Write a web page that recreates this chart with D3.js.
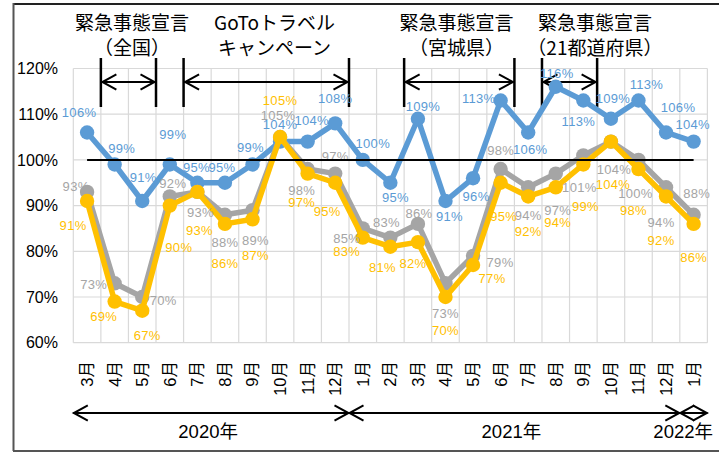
<!DOCTYPE html>
<html lang="ja">
<head>
<meta charset="utf-8">
<title>緊急事態宣言 推移</title>
<script src="https://d3js.org/d3.v7.min.js"></script>
<style>
  body { margin: 0; background: #fff; }
  svg { display: block; font-family: "Liberation Sans", "Noto Sans CJK JP", sans-serif; }
</style>
</head>
<body>
<div id="chart"></div>
<script>
// months, Mar 2020 .. Jan 2022
var months = ["3月","4月","5月","6月","7月","8月","9月","10月","11月","12月",
              "1月","2月","3月","4月","5月","6月","7月","8月","9月","10月","11月","12月","1月"];
var blueValues   = [106,99,91,99,95,95,99,104,104,108,100,95,109,91,96,113,106,116,113,109,113,106,104];
var grayValues   = [93,73,70,92,93,88,89,105,98,97,85,83,86,73,79,98,94,97,101,104,100,94,88];
var yellowValues = [91,69,67,90,93,86,87,105,97,95,83,81,82,70,77,95,92,94,99,104,98,92,86];
var yTicks = [60,70,80,90,100,110,120];
var baseline = 100;

// label placement relative to the marker (dx, dy)
var blueLabelPos = [[-8,-20],[7,-16],[1,-24],[3,-30],[-1,-15],[-3,-15],[-2,-17],[0,-17],[4,-21],[0,-25],[10,-17],[5,15],
                    [5,-12],[4,15],[3,18],[-22,-2],[2,17],[1,-13],[-5,21],[2,-20],[8,-16],[12,-25],[-1,-17]];
var grayLabelPos = [[-11,-6],[-21,1],[21,3],[3,-13],[3,20],[0,28],[3,30],[-2,-22],[-6,21],[0,-17],[-16,10],[-4,-15],
                    [1,-11],[0,30],[27,6],[0,-19],[0,28],[2,37],[-4,32],[3,28],[-3,33],[-5,35],[3,-21]];
var yellowLabelPos = [[-14,24],[-11,15],[5,25],[9,42],[2,38],[0,39],[3,36],[0,-37],[-6,29],[-8,29],[-16,14],[-8,21],
                      [-5,21],[0,33],[19,13],[3,34],[0,35],[2,35],[2,42],[2,43],[-5,41],[-5,44],[0,33]];

// annotated periods (month index from..to, text centred at labelAt)
var periods = [
  {lines: ["緊急事態宣言", "（全国）"], from: 1, to: 3, labelAt: 2.13},
  {lines: ["GoToトラベル", "キャンペーン"], from: 4, to: 10, labelAt: 7.3},
  {lines: ["緊急事態宣言", "（宮城県）"], from: 12, to: 16, labelAt: 13.9},
  {lines: ["緊急事態宣言", "（21都道府県）"], from: 17, to: 19, labelAt: 18.92}
];
var years = [
  {label: "2020年", from: 0, to: 10},
  {label: "2021年", from: 10, to: 22},
  {label: "2022年", from: 22, to: 23}
];

var W = 719, H = 454;
var plot = {left: 73.3, right: 707.4, top: 68.5, bottom: 342.7};

var svg = d3.select("#chart").append("svg")
    .attr("width", W)
    .attr("height", H);

var x = d3.scaleBand()
    .domain(d3.range(months.length))
    .range([plot.left, plot.right])
    .padding(0);
var bw = x.bandwidth();
function cx(i) { return x(i) + bw / 2; }
function edge(i) { return plot.left + i * bw; }

var y = d3.scaleLinear()
    .domain([60, 120])
    .range([plot.bottom, plot.top]);

// frame
svg.append("line").attr("x1", 13).attr("x2", W).attr("y1", 4).attr("y2", 4)
    .attr("stroke", "#222").attr("stroke-width", 2);
svg.append("line").attr("x1", 13.5).attr("x2", 13.5).attr("y1", 3).attr("y2", 451)
    .attr("stroke", "#555").attr("stroke-width", 2);
svg.append("line").attr("x1", 13).attr("x2", W).attr("y1", 451).attr("y2", 451)
    .attr("stroke", "#555").attr("stroke-width", 2);

// grid
var grid = svg.append("g").attr("stroke", "#d9d9d9").attr("stroke-width", 1.2);
grid.selectAll(".h").data(yTicks).enter().append("line")
    .attr("x1", plot.left).attr("x2", plot.right)
    .attr("y1", function(d) { return y(d); })
    .attr("y2", function(d) { return y(d); });
grid.selectAll(".v").data(d3.range(months.length + 1)).enter().append("line")
    .attr("x1", function(i) { return edge(i); })
    .attr("x2", function(i) { return edge(i); })
    .attr("y1", plot.top).attr("y2", plot.bottom);

// y axis labels
var yAxis = d3.axisLeft(y).tickValues(yTicks).tickSize(0).tickPadding(0)
    .tickFormat(function(d) { return d + "%"; });
svg.append("g")
    .attr("transform", "translate(58,0)")
    .call(yAxis)
    .call(function(g) {
      g.select(".domain").remove();
      g.selectAll("text").attr("font-size", 16).attr("fill", "#000")
        .attr("font-family", "Liberation Sans, sans-serif");
    });

// month labels (rotated)
svg.append("g").selectAll("text").data(months).enter().append("text")
    .attr("transform", function(d, i) { return "translate(" + cx(i) + ",361) rotate(-90)"; })
    .attr("text-anchor", "end")
    .attr("dy", "0.36em")
    .attr("font-size", 16.5)
    .attr("fill", "#000")
    .text(function(d) { return d; });

// arrows helper
function arrowHead(g, xTip, yy, dir, size) {
  g.append("path")
    .attr("d", "M" + (xTip + dir * size) + "," + (yy - size * 0.55) +
               "L" + xTip + "," + yy +
               "L" + (xTip + dir * size) + "," + (yy + size * 0.55))
    .attr("fill", "none").attr("stroke", "#000").attr("stroke-width", 2);
}

// period annotations
var ann = svg.append("g");
periods.forEach(function(p) {
  var x0 = edge(p.from), x1 = edge(p.to), tx = plot.left + p.labelAt * bw;
  p.lines.forEach(function(t, k) {
    ann.append("text")
      .attr("x", tx).attr("y", 30 + k * 24.5)
      .attr("text-anchor", "middle")
      .attr("font-size", 19)
      .attr("font-family", "Noto Sans CJK JP, sans-serif")
      .attr("fill", "#000")
      .text(t);
  });
  [x0, x1].forEach(function(xx) {
    ann.append("line").attr("x1", xx).attr("x2", xx).attr("y1", 58).attr("y2", 107)
      .attr("stroke", "#000").attr("stroke-width", 2.5);
  });
  ann.append("line").attr("x1", x0 + 1).attr("x2", x1 - 1).attr("y1", 82).attr("y2", 82)
    .attr("stroke", "#000").attr("stroke-width", 2);
  arrowHead(ann, x0 + 1.5, 82, 1, 14);
  arrowHead(ann, x1 - 1.5, 82, -1, 14);
});

// year arrows
var yr = svg.append("g");
years.forEach(function(d) {
  var x0 = edge(d.from), x1 = edge(d.to);
  yr.append("line").attr("x1", x0).attr("x2", x1).attr("y1", 413).attr("y2", 413)
    .attr("stroke", "#000").attr("stroke-width", 2);
  arrowHead(yr, x0 + 0.5, 413, 1, 14);
  arrowHead(yr, x1 - 0.5, 413, -1, 14);
  var t = yr.append("text")
    .attr("y", 438)
    .attr("text-anchor", "middle")
    .attr("font-size", 18.5)
    .attr("fill", "#000")
    .text(d.label);
  var w = t.node().getComputedTextLength();
  t.attr("x", Math.min((x0 + x1) / 2 - 3, 713 - w / 2));
});

// series
var line = d3.line()
    .x(function(d, i) { return cx(i); })
    .y(function(d) { return y(d); });

var series = [
  {values: blueValues,   color: "#5b9bd5", pos: blueLabelPos},
  {values: grayValues,   color: "#a5a5a5", pos: grayLabelPos},
  {values: yellowValues, color: "#ffc000", pos: yellowLabelPos}
];

series.forEach(function(s) {
  var g = svg.append("g");
  g.append("path")
    .datum(s.values)
    .attr("d", line)
    .attr("fill", "none")
    .attr("stroke", s.color)
    .attr("stroke-width", 5.5)
    .attr("stroke-linejoin", "round");
  g.selectAll("circle").data(s.values).enter().append("circle")
    .attr("cx", function(d, i) { return cx(i); })
    .attr("cy", function(d) { return y(d); })
    .attr("r", 7.2)
    .attr("fill", s.color);
});

series.forEach(function(s) {
  svg.append("g").selectAll("text").data(s.values).enter().append("text")
    .attr("x", function(d, i) { return cx(i) + s.pos[i][0]; })
    .attr("y", function(d, i) { return y(d) + s.pos[i][1]; })
    .attr("dy", "0.36em")
    .attr("text-anchor", "middle")
    .attr("font-size", 13)
    .attr("letter-spacing", 0.3)
    .attr("fill", s.color)
    .text(function(d) { return d + "%"; });
});

// 100% reference line
svg.append("line")
    .attr("x1", cx(0)).attr("x2", cx(months.length - 1))
    .attr("y1", y(baseline)).attr("y2", y(baseline))
    .attr("stroke", "#000").attr("stroke-width", 2);
</script>
</body>
</html>
